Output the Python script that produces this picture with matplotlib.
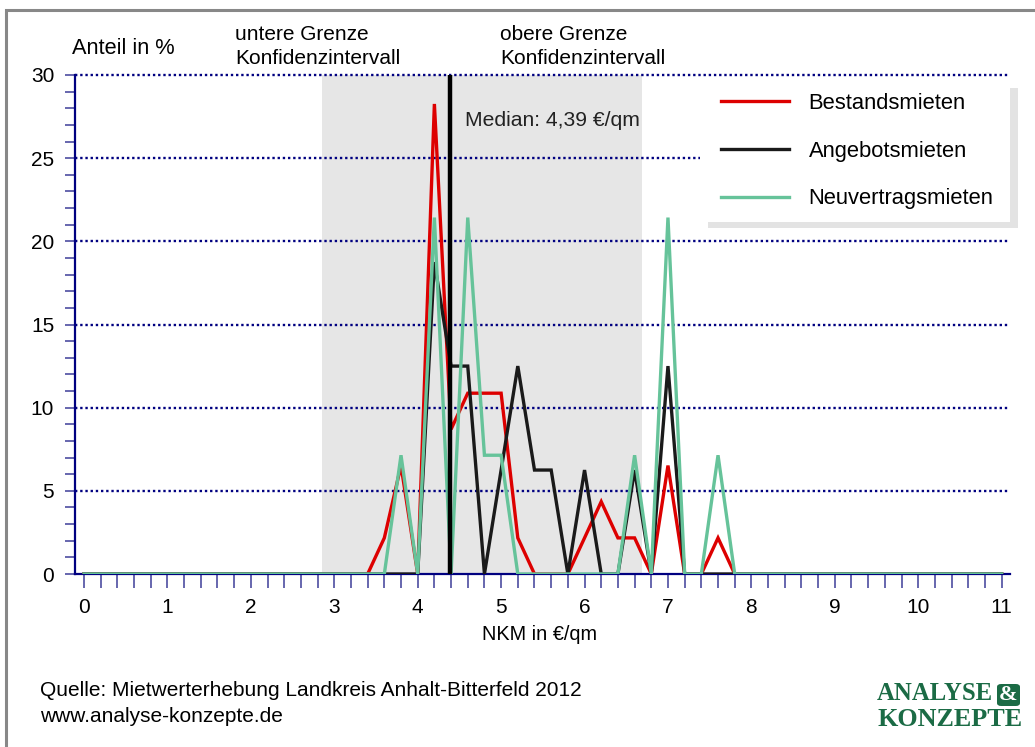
import matplotlib
matplotlib.use("Agg")
import matplotlib.pyplot as plt
from matplotlib.patches import Rectangle, FancyBboxPatch
import numpy as np

# ---------------- data ----------------
rent = [round(0.2 * i, 1) for i in range(56)]  # NKM in €/qm, 0 .. 11 step 0.2
bestand = [0, 0, 0, 0, 0, 0, 0, 0, 0, 0, 0, 0, 0, 0, 0, 0, 0, 0,
           2.17, 6.52, 0, 28.26, 8.70, 10.87, 10.87, 10.87, 2.17, 0, 0, 0,
           2.17, 4.35, 2.17, 2.17, 0, 6.52, 0, 0, 2.17, 0,
           0, 0, 0, 0, 0, 0, 0, 0, 0, 0, 0, 0, 0, 0, 0, 0]
angebot = [0, 0, 0, 0, 0, 0, 0, 0, 0, 0, 0, 0, 0, 0, 0, 0, 0, 0,
           0, 0, 0, 18.75, 12.5, 12.5, 0, 6.25, 12.5, 6.25, 6.25, 0,
           6.25, 0, 0, 6.25, 0, 12.5, 0, 0, 0, 0,
           0, 0, 0, 0, 0, 0, 0, 0, 0, 0, 0, 0, 0, 0, 0, 0]
neuvertrag = [0, 0, 0, 0, 0, 0, 0, 0, 0, 0, 0, 0, 0, 0, 0, 0, 0, 0,
              0, 7.14, 0, 21.43, 0, 21.43, 7.14, 7.14, 0, 0, 0, 0,
              0, 0, 0, 7.14, 0, 21.43, 0, 0, 7.14, 0,
              0, 0, 0, 0, 0, 0, 0, 0, 0, 0, 0, 0, 0, 0, 0, 0]
series_names = ["Bestandsmieten", "Angebotsmieten", "Neuvertragsmieten"]
series_colors = ["#dd0000", "#1a1a1a", "#66c39a"]
median = 4.39
ci_low, ci_high = 2.85, 6.69
x_ticks = list(range(0, 12))
y_ticks = [0, 5, 10, 15, 20, 25, 30]

plt.rcParams["font.family"] = ["Liberation Sans", "DejaVu Sans"]

navy = "#000080"

fig = plt.figure(figsize=(10.35, 7.47), dpi=100)
W, H = 1035, 747
# outer gray frame
fig.patches.append(Rectangle((6 / W, -0.1), 1.2, 1 - 10 / H + 0.1, transform=fig.transFigure,
                             fill=False, edgecolor="#888888", linewidth=2.2))

ax = fig.add_axes([75 / W, 1 - 574 / H, (1010 - 75) / W, (574 - 75) / H])
ax.set_xlim(-0.108, 11.1)
ax.set_ylim(0, 30)

# confidence interval shading
ax.axvspan(ci_low, ci_high, color="#e6e6e6", zorder=0.5, lw=0)

# grid
for yv in y_ticks[1:]:
    ax.axhline(yv, color=navy, linestyle=(0, (1, 1.2)), linewidth=1.7, zorder=1, clip_on=False)

# series
for vals, name, col in zip([bestand, angebot, neuvertrag], series_names, series_colors):
    ax.plot(rent, vals, color=col, linewidth=2.4, label=name, zorder=3, solid_joinstyle="miter")

# median line
ax.plot([median, median], [0, 30], color="black", linewidth=3.2, zorder=5, solid_capstyle="butt")
ax.text(median + 0.18, 27.25, "Median: 4,39 €/qm", fontsize=15.2, color="#222222",
        va="center", ha="left", zorder=6)

# axes styling
for s in ["top", "right"]:
    ax.spines[s].set_visible(False)
for s in ["left", "bottom"]:
    ax.spines[s].set_color(navy)
    ax.spines[s].set_linewidth(1.6)
    ax.spines[s].set_zorder(2)
ax.set_xticks(x_ticks)
ax.set_xticks(np.arange(0, 11.01, 0.2), minor=True)
ax.set_yticks(y_ticks)
ax.set_yticks(range(0, 31), minor=True)
ax.tick_params(axis="x", which="both", direction="out", length=10, width=1.3, color="#5a5aa8",
               labelsize=15, pad=7)
ax.tick_params(axis="y", which="both", direction="out", length=7, width=1.3, color="#5a5aa8",
               labelsize=15, pad=8)
ax.set_facecolor("none")

# legend box with shadow
lx0, lx1 = (700 - 75) / (1010 - 75), 1.0
ly1 = 1 - (82 - 75) / 499
ly0 = 1 - (222 - 75) / 499
sx = 8 / 935
sy = 6 / 499
ax.add_patch(Rectangle((lx0 + sx, ly0 - sy), lx1 - lx0, ly1 - ly0, transform=ax.transAxes,
                       facecolor="#e3e3e3", edgecolor="none", zorder=7, clip_on=False))
ax.add_patch(Rectangle((lx0, ly0), lx1 - lx0, ly1 - ly0, transform=ax.transAxes,
                       facecolor="white", edgecolor="none", zorder=7.5, clip_on=False))
leg = ax.legend(loc="upper left", bbox_to_anchor=((712 - 75) / 935, 1 - (84 - 75) / 499),
                frameon=False, fontsize=15.8, handlelength=3.1, handletextpad=0.9,
                labelspacing=1.22, borderaxespad=0)
leg.set_zorder(8)

# texts
fig.text(72 / W, 1 - 48 / H, "Anteil in %", fontsize=15.7, va="center")
fig.text(235 / W, 1 - 35 / H, "untere Grenze", fontsize=15, va="center")
fig.text(235 / W, 1 - 59 / H, "Konfidenzintervall", fontsize=15, va="center")
fig.text(500 / W, 1 - 35 / H, "obere Grenze", fontsize=15, va="center")
fig.text(500 / W, 1 - 59 / H, "Konfidenzintervall", fontsize=15, va="center")
fig.text(540 / W, 1 - 634 / H, "NKM in €/qm", fontsize=14.3, ha="center", va="center")
fig.text(40 / W, 1 - 690 / H, "Quelle: Mietwerterhebung Landkreis Anhalt-Bitterfeld 2012",
         fontsize=15, va="center")
fig.text(40 / W, 1 - 716 / H, "www.analyse-konzepte.de", fontsize=15, va="center")

# logo
green = "#1b6b45"
fig.text(877 / W, 1 - 694 / H, "ANALYSE", fontsize=17.8, family="Liberation Serif",
         weight="bold", color=green, va="center", ha="left")
fig.patches.append(FancyBboxPatch((997 / W, 1 - 706 / H), 23 / W, 22 / H,
                                  boxstyle="round,pad=0,rounding_size=0.004",
                                  transform=fig.transFigure, facecolor=green, edgecolor="none"))
fig.text(1008.5 / W, 1 - 695 / H, "&", fontsize=16, family="Liberation Serif",
         weight="bold", color="white", va="center", ha="center")
fig.text(877 / W, 1 - 720 / H, "KONZEPTE", fontsize=18.8, family="Liberation Serif",
         weight="bold", color=green, va="center", ha="left")

fig.savefig("out.png", dpi=100)
